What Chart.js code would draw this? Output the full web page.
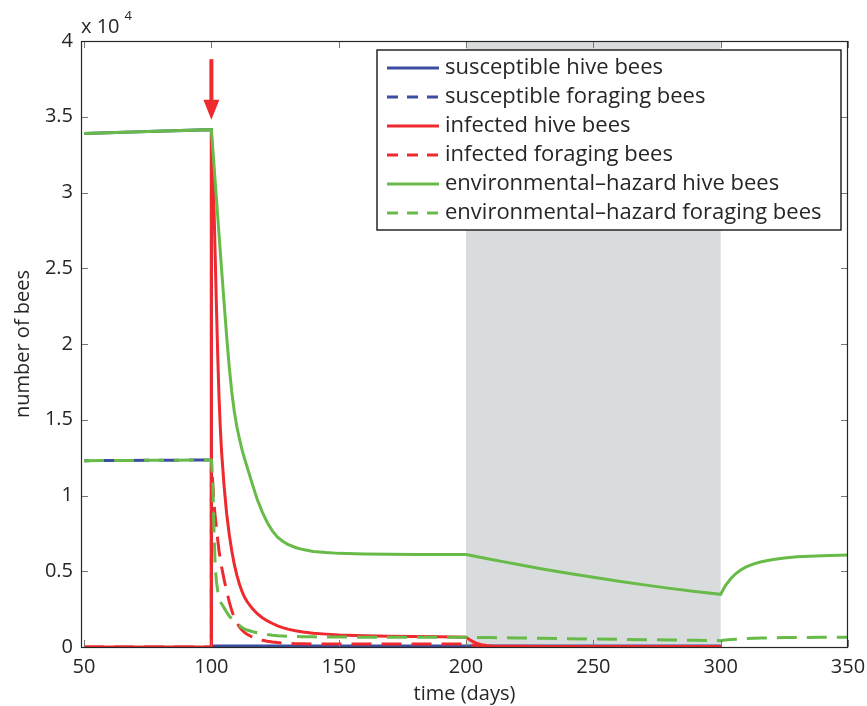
<!DOCTYPE html>
<html>
<head>
<meta charset="utf-8">
<script src="https://cdn.jsdelivr.net/npm/chart.js@4.4.1/dist/chart.umd.min.js"></script>
<style>
  html, body { margin: 0; padding: 0; background: #fff; }
  #wrap { width: 867px; height: 706px; }
</style>
</head>
<body>
<div id="wrap"><canvas id="beeChart" width="867" height="706"></canvas></div>
<script>
// time axis (days), day 100 appears twice for the jump at infection
const days = [50, 75, 100, 100, 100.5, 101, 101.5, 102, 102.5, 103,
  103.5, 104, 105, 106, 107, 108, 109, 110, 111, 112,
  113, 114, 116, 118, 120, 122, 124, 126, 128, 130,
  133, 136, 140, 145, 150, 160, 170, 180, 190, 200,
  202, 204, 206, 208, 210, 215, 220, 230, 240, 250,
  260, 270, 280, 290, 300, 301, 302, 304, 306, 308,
  310, 313, 316, 320, 325, 330, 340, 350];

const susceptibleHive = [33900, 34030, 34150, 0, 60, 60, 60, 60, 60, 60,
  60, 60, 60, 60, 60, 60, 60, 60, 60, 60,
  60, 60, 60, 60, 60, 60, 60, 60, 60, 60,
  60, 60, 60, 60, 60, 60, 60, 60, 60, 60,
  60, 60, 60, 60, 60, 60, 60, 60, 60, 60,
  60, 60, 60, 60, 60, null, null, null, null, null,
  null, null, null, null, null, null, null, null];

const susceptibleForaging = [12300, 12320, 12350, 0, 30, 30, 30, 30, 30, 30,
  30, 30, 30, 30, 30, 30, 30, 30, 30, 30,
  30, 30, 30, 30, 30, 30, 30, 30, 30, 30,
  30, 30, 30, 30, 30, 30, 30, 30, 30, 30,
  30, 30, 30, 30, 30, 30, 30, 30, 30, 30,
  30, 30, 30, 30, 30, null, null, null, null, null,
  null, null, null, null, null, null, null, null];

const infectedHive = [0, 0, 0, 33900, 32500, 29200, 25800, 22400, 19200, 16500,
  14500, 12900, 10600, 8800, 7450, 6350, 5450, 4750, 4150, 3680,
  3300, 3000, 2550, 2200, 1930, 1720, 1550, 1400, 1280, 1180,
  1070, 990, 910, 850, 800, 740, 710, 690, 670, 650,
  420, 250, 150, 100, 70, 50, 45, 40, 40, 40,
  40, 40, 40, 40, 40, null, null, null, null, null,
  null, null, null, null, null, null, null, null];

const infectedForaging = [0, 0, 0, 12300, 10900, 9500, 8600, 7850, 7050, 6350,
  5800, 5300, 4450, 3700, 3000, 2400, 1950, 1600, 1330, 1120,
  960, 840, 660, 530, 440, 380, 330, 290, 260, 240,
  220, 210, 200, 195, 190, 190, 190, 190, 190, 190,
  130, 80, 50, 30, 20, 20, 20, 20, 20, 20,
  20, 20, 20, 20, 20, null, null, null, null, null,
  null, null, null, null, null, null, null, null];

const hazardHive = [33900, 34030, 34150, 34150, 33000, 31850, 30700, 29550, 28400, 27250,
  26100, 24950, 22700, 20500, 18500, 16850, 15550, 14550, 13750, 13050,
  12450, 11900, 10800, 9750, 8900, 8200, 7650, 7250, 6980, 6780,
  6570, 6430, 6310, 6230, 6180, 6140, 6120, 6110, 6100, 6100,
  6040, 5975, 5910, 5845, 5780, 5620, 5460, 5150, 4870, 4600,
  4340, 4100, 3870, 3670, 3480, 3800, 4080, 4520, 4850, 5100,
  5290, 5490, 5630, 5760, 5870, 5950, 6030, 6080];

const hazardForaging = [12300, 12320, 12350, 12350, 11200, 7800, 5300, 4300, 3700, 3200,
  3000, 2850, 2580, 2300, 2040, 1860, 1700, 1560, 1420, 1290,
  1190, 1120, 1020, 940, 870, 820, 780, 750, 730, 715,
  695, 680, 670, 660, 655, 650, 645, 640, 640, 640,
  636, 633, 630, 627, 623, 612, 600, 575, 552, 530,
  505, 482, 460, 440, 420, 440, 460, 490, 515, 540,
  560, 580, 595, 608, 620, 628, 636, 640];

const seriesNames = ['susceptible hive bees', 'susceptible foraging bees', 'infected hive bees',
  'infected foraging bees', 'environmental\u2013hazard hive bees', 'environmental\u2013hazard foraging bees'];

const xTicks = [50, 100, 150, 200, 250, 300, 350];
const yTicks = [0, 5000, 10000, 15000, 20000, 25000, 30000, 35000, 40000];
const yTickLabels = ['0', '0.5', '1', '1.5', '2', '2.5', '3', '3.5', '4'];

// shaded period and arrow marking the infection
const shadeFrom = 200, shadeTo = 300;
const arrowDay = 100, arrowFrom = 38800, arrowTo = 34800;

const BLUE = '#3a4da0', RED = '#ee2a2e', GREEN = '#68bb48', INK = '#262626';
const FONT = "'Open Sans', sans-serif";

const toPoints = (vals) => days.map((d, i) => ({ x: d, y: vals[i] }));

const makeSet = (label, vals, color, dashed, order, dashOffset) => ({
  label,
  data: toPoints(vals),
  borderColor: color,
  backgroundColor: color,
  borderWidth: 3,
  borderDash: dashed ? [20, 10] : [],
  borderDashOffset: dashOffset || 0,
  pointRadius: 0,
  tension: 0,
  spanGaps: false,
  fill: false,
  order
});

// grey band behind the lines
const shadePlugin = {
  id: 'shade',
  beforeDatasetsDraw(chart) {
    const { ctx, chartArea, scales } = chart;
    const x0 = scales.x.getPixelForValue(shadeFrom);
    const x1 = scales.x.getPixelForValue(shadeTo);
    ctx.save();
    ctx.fillStyle = '#d9dcdd';
    ctx.fillRect(x0, chartArea.top, x1 - x0, chartArea.bottom - chartArea.top);
    ctx.restore();
  }
};

// box, inward ticks, arrow, exponent and legend
const decorPlugin = {
  id: 'decor',
  afterDraw(chart) {
    const { ctx, chartArea: a, scales } = chart;
    const xs = scales.x, ys = scales.y;
    ctx.save();

    // arrow
    const ax = xs.getPixelForValue(arrowDay);
    const ay0 = ys.getPixelForValue(arrowFrom);
    const ay1 = ys.getPixelForValue(arrowTo);
    ctx.strokeStyle = RED;
    ctx.fillStyle = RED;
    ctx.lineWidth = 4;
    ctx.beginPath();
    ctx.moveTo(ax, ay0);
    ctx.lineTo(ax, ay1 - 14);
    ctx.stroke();
    ctx.beginPath();
    ctx.moveTo(ax - 8, ay1 - 20);
    ctx.lineTo(ax + 8, ay1 - 20);
    ctx.lineTo(ax, ay1);
    ctx.closePath();
    ctx.fill();

    // ticks
    ctx.strokeStyle = '#777';
    ctx.lineWidth = 1;
    ctx.beginPath();
    xTicks.forEach(v => {
      const px = Math.round(xs.getPixelForValue(v)) + 0.5;
      ctx.moveTo(px, a.bottom); ctx.lineTo(px, a.bottom - 7);
      ctx.moveTo(px, a.top); ctx.lineTo(px, a.top + 7);
    });
    yTicks.forEach(v => {
      const py = Math.round(ys.getPixelForValue(v)) + 0.5;
      ctx.moveTo(a.left, py); ctx.lineTo(a.left + 7, py);
      ctx.moveTo(a.right, py); ctx.lineTo(a.right - 7, py);
    });
    ctx.stroke();

    // frame
    ctx.strokeStyle = INK;
    ctx.lineWidth = 1.2;
    ctx.strokeRect(a.left + 0.5, a.top + 0.5, a.right - a.left - 1, a.bottom - a.top);

    // exponent
    ctx.fillStyle = INK;
    ctx.textBaseline = 'alphabetic';
    ctx.textAlign = 'left';
    ctx.font = '20px ' + FONT;
    ctx.fillText('x 10', a.left, a.top - 8);
    const w = ctx.measureText('x 10').width;
    ctx.font = '13px ' + FONT;
    ctx.fillText('4', a.left + w + 5, a.top - 21);

    // legend
    const bx = a.right - 471, by = a.top + 9, bw = 464, bh = 180;
    ctx.fillStyle = '#fff';
    ctx.fillRect(bx, by, bw, bh);
    ctx.strokeStyle = INK;
    ctx.lineWidth = 1.5;
    ctx.strokeRect(bx, by, bw, bh);
    ctx.font = '22px ' + FONT;
    ctx.textBaseline = 'middle';
    chart.data.datasets.forEach((ds, i) => {
      const ry = by + 18 + i * 29;
      ctx.strokeStyle = ds.borderColor;
      ctx.lineWidth = 3;
      ctx.setLineDash(ds.borderDash.length ? [11, 9] : []);
      ctx.beginPath();
      ctx.moveTo(bx + 10, ry);
      ctx.lineTo(bx + 62, ry);
      ctx.stroke();
      ctx.setLineDash([]);
      ctx.fillStyle = INK;
      ctx.fillText(ds.label, bx + 68, ry);
    });
    ctx.restore();
  }
};

const ctx = document.getElementById('beeChart').getContext('2d');
const beeChart = new Chart(ctx, {
  type: 'line',
  data: {
    datasets: [
      makeSet(seriesNames[0], susceptibleHive, BLUE, false, 6),
      makeSet(seriesNames[1], susceptibleForaging, BLUE, true, 5, 15),
      makeSet(seriesNames[2], infectedHive, RED, false, 4),
      makeSet(seriesNames[3], infectedForaging, RED, true, 3),
      makeSet(seriesNames[4], hazardHive, GREEN, false, 2),
      makeSet(seriesNames[5], hazardForaging, GREEN, true, 1)
    ]
  },
  options: {
    responsive: false,
    animation: false,
    layout: { padding: { top: 41, right: 19, left: 0, bottom: 0 } },
    plugins: {
      legend: { display: false },
      tooltip: { enabled: false }
    },
    scales: {
      x: {
        type: 'linear',
        min: 48.8,
        max: 350,
        grid: { display: false, drawTicks: false },
        border: { display: false },
        afterBuildTicks: (scale) => { scale.ticks = xTicks.map(v => ({ value: v })); },
        afterFit: (scale) => {
          scale.height = 59;
          scale.paddingLeft = 0;
          scale.paddingRight = 0;
        },
        ticks: {
          padding: 8,
          color: INK,
          font: { family: FONT, size: 20 },
          maxRotation: 0,
          autoSkip: false
        },
        title: {
          display: true,
          text: 'time (days)',
          color: INK,
          font: { family: FONT, size: 20, lineHeight: 1 },
          padding: { top: 0, bottom: 2 }
        }
      },
      y: {
        type: 'linear',
        min: 0,
        max: 40000,
        grid: { display: false, drawTicks: false },
        border: { display: false },
        afterBuildTicks: (scale) => { scale.ticks = yTicks.map(v => ({ value: v })); },
        afterFit: (scale) => {
          scale.width = 81;
          scale.paddingTop = 0;
          scale.paddingBottom = 0;
        },
        ticks: {
          padding: 8,
          color: INK,
          font: { family: FONT, size: 20 },
          autoSkip: false,
          callback: (value, index) => yTickLabels[index]
        },
        title: {
          display: true,
          text: 'number of bees',
          color: INK,
          font: { family: FONT, size: 20, lineHeight: 1 },
          padding: { top: 13, bottom: 0 }
        }
      }
    }
  },
  plugins: [shadePlugin, decorPlugin]
});
</script>
</body>
</html>
